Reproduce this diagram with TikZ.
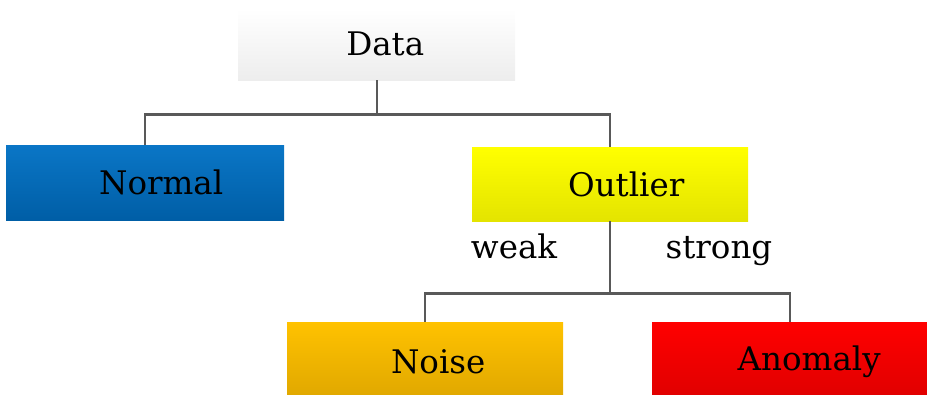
\documentclass[tikz,border=0pt]{standalone}
\usepackage{fontspec}
\setmainfont{DejaVu Serif}
\usetikzlibrary{calc}
\begin{document}
\begin{tikzpicture}[x=1pt,y=-1pt,
  box/.style={draw=none,minimum width=#1,minimum height=74pt,inner sep=0pt,anchor=north west,font=\fontsize{32.5}{38}\selectfont},
  conn/.style={draw=black!65,line width=2.4pt},
  lbl/.style={font=\fontsize{32.5}{38}\selectfont,inner sep=0pt,anchor=base}]
\useasboundingbox (0,0) rectangle (927,394);
\node[box=277pt,minimum height=72pt,top color=white,bottom color=black!7] (data) at (238,8) {\hspace*{17pt}Data};
\node[box=278pt,minimum height=75pt,top color={rgb,255:red,10;green,118;blue,198},bottom color={rgb,255:red,0;green,94;blue,166}] (normal) at (6,145) {\hspace*{32pt}Normal};
\node[box=276pt,top color={rgb,255:red,255;green,255;blue,0},bottom color={rgb,255:red,228;green,228;blue,0}] (outlier) at (472,147) {\hspace*{32pt}Outlier};
\node[box=276pt,minimum height=80pt,top color={rgb,255:red,255;green,194;blue,0},bottom color={rgb,255:red,222;green,166;blue,0}] (noise) at (287,322) {\hspace*{26pt}Noise};
\node[box=276pt,minimum height=80pt,top color={rgb,255:red,255;green,0;blue,0},bottom color={rgb,255:red,222;green,0;blue,0}] (anomaly) at (652,322) {\hspace*{38pt}Anomaly};
\node[lbl] (weak) at (514,258) {weak};
\node[lbl] (strong) at (719,258) {strong};
\coordinate (j1) at ($(data.south)+(0,34)$);
\draw[conn] (data.south) -- (j1);
\draw[conn] (j1) -| (normal.north);
\draw[conn] (j1) -| (outlier.north);
\coordinate (j2) at ($(outlier.south)+(0,72)$);
\draw[conn] (outlier.south) -- (j2);
\draw[conn] (j2) -| (noise.north);
\draw[conn] (j2) -| (anomaly.north);
\end{tikzpicture}
\end{document}
